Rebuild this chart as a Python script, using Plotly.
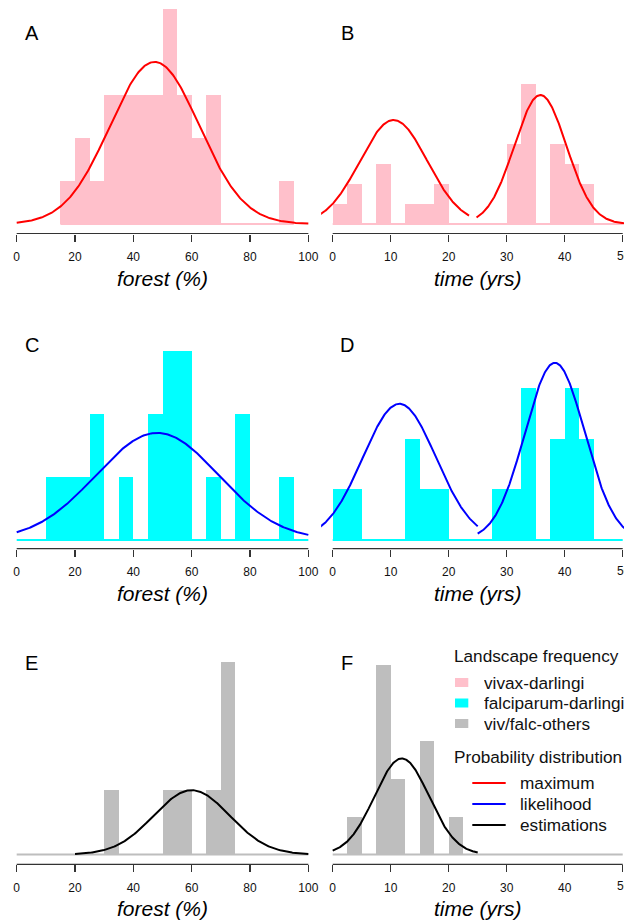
import numpy as np
import plotly.graph_objects as go

# ---------------- data ----------------
forest_ticks = [0, 20, 40, 60, 80, 100]
time_ticks = [0, 10, 20, 30, 40, 50]

# histograms: first bin edge, bin width, counts per bin
A_start, A_width = 15, 5
A_counts = [1, 2, 1, 3, 3, 3, 3, 5, 3, 2, 3, 0, 0, 0, 0, 1]
B_start, B_width = 0, 2.5
B_counts = [1, 2, 0, 3, 0, 1, 1, 2, 0, 0, 0, 0, 4, 7, 0, 4, 3, 2, 0, 0]
C_start, C_width = 0, 5
C_counts = [0, 0, 1, 1, 1, 2, 0, 1, 0, 2, 3, 3, 0, 1, 0, 2, 0, 0, 1, 0]
D_start, D_width = 0, 2.5
D_counts = [1, 1, 0, 0, 0, 2, 1, 1, 0, 0, 0, 1, 1, 3, 0, 2, 3, 2, 0, 0]
E_start, E_width = 0, 5
E_counts = [0, 0, 0, 0, 0, 0, 1, 0, 0, 0, 1, 1, 0, 1, 3, 0, 0, 0, 0, 0]
F_start, F_width = 0, 2.5
F_counts = [0, 1, 0, 5, 2, 0, 3, 0, 1, 0, 0, 0, 0, 0, 0, 0, 0, 0, 0, 0]

# fitted normal curves: (mean, sd, peak height, x from, x to)
A_fit = [(47.3, 15.3, 3.77, 0, 100)]
B_fit = [(10.5, 5.8, 5.2, -2.5, 23.5), (35.8, 4.5, 6.45, 24.8, 52)]
C_fit = [(48.2, 21.0, 1.70, 0, 100)]
D_fit = [(11.5, 6.3, 2.69, -2.5, 25), (38.3, 5.15, 3.5, 25, 52)]
E_fit = [(60.0, 13.0, 1.0, 20, 100)]
F_fit = [(11.9, 4.7, 2.54, 0, 25)]

# top of each panel's vertical scale (in counts)
panel_ytop = {"A": 5.21, "B": 11.2, "C": 3.576, "D": 4.45, "E": 3.487, "F": 5.93}

panel_letters = ["A", "B", "C", "D", "E", "F"]
x_titles = ["forest (%)", "time (yrs)"]

legend_fill_labels = ["vivax-darlingi", "falciparum-darlingi", "viv/falc-others"]
legend_line_labels = ["maximum", "likelihood", "estimations"]
legend_header1 = "Landscape frequency"
legend_header2 = "Probability distribution"

# ---------------- styling / layout ----------------
W, H = 624, 921
FONT = "Liberation Sans, Arial, sans-serif"
TICK_FS = 12
LEG_FS = 17.2
fill_colors = {"A": "#FFC0CB", "B": "#FFC0CB", "C": "#00FFFF", "D": "#00FFFF",
               "E": "#BEBEBE", "F": "#BEBEBE"}
line_colors = {"A": "#FF0000", "B": "#FF0000", "C": "#0000FF", "D": "#0000FF",
               "E": "#000000", "F": "#000000"}
AXIS_COL = "#333333"

row_axis_px = [233.5, 548.7, 864.3]
row_base_px = [224.0, 540.0, 854.5]
col_dom_px = [(5.03, 320.0), (321.1, 624.0)]
col_range = [(-4, 104), (-2, 50.22)]
col_axis_span = [(forest_ticks[0], forest_ticks[-1]), (time_ticks[0], time_ticks[-1])]
col_ticks = [forest_ticks, time_ticks]

hist = {"A": (A_start, A_width, A_counts), "B": (B_start, B_width, B_counts),
        "C": (C_start, C_width, C_counts), "D": (D_start, D_width, D_counts),
        "E": (E_start, E_width, E_counts), "F": (F_start, F_width, F_counts)}
fits = {"A": A_fit, "B": B_fit, "C": C_fit, "D": D_fit, "E": E_fit, "F": F_fit}


def px(x):
    return x / W


def py(y):
    return 1 - y / H


fig = go.Figure()
layout = dict(width=W, height=H, margin=dict(l=0, r=0, t=0, b=0),
              paper_bgcolor="white", plot_bgcolor="white", showlegend=False,
              hovermode=False, bargap=0, barmode="overlay")
shapes = []
annotations = []

for i, key in enumerate(panel_letters):
    r, c = i // 2, i % 2
    n = i + 1
    xa = "x" if n == 1 else f"x{n}"
    ya = "y" if n == 1 else f"y{n}"
    xname = "xaxis" if n == 1 else f"xaxis{n}"
    yname = "yaxis" if n == 1 else f"yaxis{n}"

    axis_px = row_axis_px[r]
    base_px = row_base_px[r]
    top_px = max(axis_px - 234.0, 0.0)
    ytop = panel_ytop[key]
    ppc = (base_px - top_px) / ytop
    ymin = -(axis_px - base_px) / ppc

    start, width, counts = hist[key]
    edges = [start + width * k for k in range(len(counts) + 1)]
    centers = [start + width * (k + 0.5) for k in range(len(counts))]

    # zero line of the histogram
    fig.add_trace(go.Scatter(x=[edges[0], edges[-1]], y=[0, 0], mode="lines",
                             line=dict(color=fill_colors[key], width=2),
                             xaxis=xa, yaxis=ya, hoverinfo="skip"))
    fig.add_trace(go.Bar(x=centers, y=counts, width=[width] * len(counts),
                         marker=dict(color=fill_colors[key], line=dict(width=0)),
                         xaxis=xa, yaxis=ya, hoverinfo="skip"))
    for (mu, sd, pk, lo, hi) in fits[key]:
        xs = np.linspace(lo, hi, 300)
        ys = pk * np.exp(-0.5 * ((xs - mu) / sd) ** 2)
        fig.add_trace(go.Scatter(x=xs, y=ys, mode="lines",
                                 line=dict(color=line_colors[key], width=2),
                                 xaxis=xa, yaxis=ya, hoverinfo="skip"))

    ticks = col_ticks[c]
    d0, d1 = col_dom_px[c]
    # the last tick label of the right column sits on the page edge: it is drawn
    # below as a clipped annotation, so that it is cut like in the reference
    ticktext = [str(t) for t in ticks]
    if c == 1:
        ticktext[-1] = ""
    layout[xname] = dict(domain=[px(d0), px(d1)], range=list(col_range[c]),
                         anchor=ya, showgrid=False, zeroline=False, showline=False,
                         ticks="outside", ticklen=7, tickwidth=1.2, tickcolor=AXIS_COL,
                         ticklabelstandoff=5,
                         tickmode="array", tickvals=ticks, ticktext=ticktext,
                         tickfont=dict(family=FONT, size=TICK_FS, color="#111111"),
                         fixedrange=True)
    layout[yname] = dict(domain=[py(axis_px), py(top_px)], range=[ymin, ytop],
                         anchor=xa, visible=False, fixedrange=True)

    if c == 1:
        last = str(ticks[-1])
        full_w = 0.556 * TICK_FS * len(last)
        x_left = d0 + (ticks[-1] - col_range[c][0]) / (col_range[c][1] - col_range[c][0]) * (d1 - d0) - full_w / 2
        annotations.append(dict(text=last, x=px(x_left), y=py(axis_px + 22.0),
                                xref="paper", yref="paper", showarrow=False,
                                xanchor="left", yanchor="middle", align="left",
                                width=max(W - x_left, 1), borderpad=0,
                                font=dict(family=FONT, size=TICK_FS, color="#111111")))

    a0, a1 = col_axis_span[c]
    shapes.append(dict(type="line", xref=xa, yref=f"{ya} domain", x0=a0, x1=a1,
                       y0=0, y1=0, line=dict(color=AXIS_COL, width=1.2)))

    # panel letter
    letter_x = [31.5, 347.0][c]
    letter_y = [32.5, 345.0, 662.5][r]
    annotations.append(dict(text=key, x=px(letter_x), y=py(letter_y), xref="paper",
                            yref="paper", showarrow=False, xanchor="center",
                            yanchor="middle",
                            font=dict(family=FONT, size=20, color="#000000")))
    # axis title
    annotations.append(dict(text=f"<i>{x_titles[c]}</i>", x=(a0 + a1) / 2,
                            xref=xa, y=py(axis_px + 44.5), yref="paper",
                            showarrow=False, xanchor="center", yanchor="middle",
                            font=dict(family=FONT, size=21, color="#000000")))

# ---------------- legend (drawn in panel F area) ----------------
leg_fill_cols = ["#FFC0CB", "#00FFFF", "#BEBEBE"]
leg_line_cols = ["#FF0000", "#0000FF", "#000000"]
hdr_x = 453.0
item_x = 483.0


def leg_text(text, x, y):
    return dict(text=text, x=px(x), y=py(y), xref="paper", yref="paper",
                showarrow=False, xanchor="left", yanchor="middle", align="left",
                width=W - x - 1, borderpad=0,
                font=dict(family=FONT, size=LEG_FS, color="#111111"))


annotations.append(leg_text(legend_header1, hdr_x, 656.0))
for k, (lab, col) in enumerate(zip(legend_fill_labels, leg_fill_cols)):
    yc = 682.5 + 20.5 * k
    shapes.append(dict(type="rect", xref="paper", yref="paper",
                       x0=px(455.0), x1=px(468.3), y0=py(yc - 4.5), y1=py(yc + 4.5),
                       fillcolor=col, line=dict(width=0)))
    annotations.append(leg_text(lab, item_x, yc))
annotations.append(leg_text(legend_header2, hdr_x, 756.7))
for k, (lab, col) in enumerate(zip(legend_line_labels, leg_line_cols)):
    yc = 783.0 + 21.0 * k
    shapes.append(dict(type="line", xref="paper", yref="paper",
                       x0=px(472.3), x1=px(505.7), y0=py(yc), y1=py(yc),
                       line=dict(color=col, width=2)))
    annotations.append(leg_text(lab, 519.0, yc))

layout["shapes"] = shapes
layout["annotations"] = annotations
fig.update_layout(**layout)

clip_js = (
    "document.documentElement.style.overflow='hidden';"
    "document.body.style.margin='0';"
    "document.body.style.overflow='hidden';"
)
fig.write_html("out.html", config={"displayModeBar": False, "staticPlot": True},
               post_script=clip_js)
